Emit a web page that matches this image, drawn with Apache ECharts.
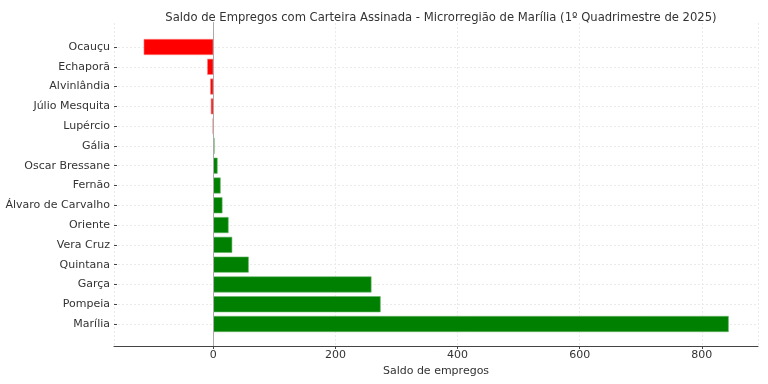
<!DOCTYPE html>
<html>
<head>
<meta charset="utf-8">
<script src="https://cdn.jsdelivr.net/npm/echarts@6/dist/echarts.min.js"></script>
<style>html,body{margin:0;padding:0;background:#fff}#c{width:768px;height:384px}</style>
</head>
<body>
<div id="c"></div>
<script>
const categories = ["Ocauçu","Echaporã","Alvinlândia","Júlio Mesquita","Lupércio","Gália","Oscar Bressane","Fernão","Álvaro de Carvalho","Oriente","Vera Cruz","Quintana","Garça","Pompeia","Marília"];
const saldo = [-114,-10,-5,-4,-1,2,7,12,15,25,31,58,259,274,844];
const xMin = -162.6, xMax = 892;

const font = "DejaVu Sans";
const chart = echarts.init(document.getElementById('c'), null, {renderer:'canvas'});
chart.setOption({
  animation:false,
  backgroundColor:'#fff',
  title:{text:'Saldo de Empregos com Carteira Assinada - Microrregião de Marília (1º Quadrimestre de 2025)',
    left:436, top:7, textAlign:'center',
    textStyle:{fontFamily:font,fontSize:11.6,fontWeight:'normal',color:'#333'}},
  grid:[
    {left:114,right:10,top:23,bottom:38},
    {left:114,right:10,top:47,bottom:60}
  ],
  xAxis:[
    {type:'value',gridIndex:0,min:xMin,max:xMax,splitNumber:5,
      name:'Saldo de empregos',nameLocation:'middle',nameGap:19,
      nameTextStyle:{fontFamily:font,fontSize:11,color:'#333'},
      axisLine:{show:true,lineStyle:{color:'#444',width:1}},
      axisTick:{show:true,length:3,lineStyle:{color:'#444'}},
      axisLabel:{showMinLabel:false,showMaxLabel:false,fontFamily:font,fontSize:11,color:'#333',margin:4},
      splitLine:{show:true,lineStyle:{color:'#ebebeb',type:[2,2],width:1}}},
    {type:'value',gridIndex:1,min:xMin,max:xMax,show:false,splitLine:{show:false}}
  ],
  yAxis:[
    {type:'value',gridIndex:0,min:0,max:1,
      axisLine:{show:true,lineStyle:{color:'#444',width:1}},
      axisTick:{show:false},axisLabel:{show:false},splitLine:{show:false}},
    {type:'category',gridIndex:1,data:categories,inverse:true,boundaryGap:false,
      axisLine:{show:false,onZero:false},
      axisTick:{show:true,inside:true,length:3,lineStyle:{color:'#444'}},
      axisLabel:{fontFamily:font,fontSize:11,color:'#333',margin:4},
      splitLine:{show:true,lineStyle:{color:'#ebebeb',type:[2,2],width:1}}}
  ],
  series:[
    {type:'scatter',xAxisIndex:0,yAxisIndex:0,data:[],silent:true,
      markLine:{symbol:'none',silent:true,label:{show:false},
        lineStyle:{color:'#aaa',type:'solid',width:1},
        data:[{xAxis:0}]}},
    {type:'bar',xAxisIndex:1,yAxisIndex:1,barWidth:16,
      data:saldo.map(v=>({value:v,itemStyle:{color:v<0?'#ff0000':'#008000',borderColor:v<0?'#ff8080':'#66b366',borderWidth:0.6}}))}
  ]
});
</script>
</body>
</html>
